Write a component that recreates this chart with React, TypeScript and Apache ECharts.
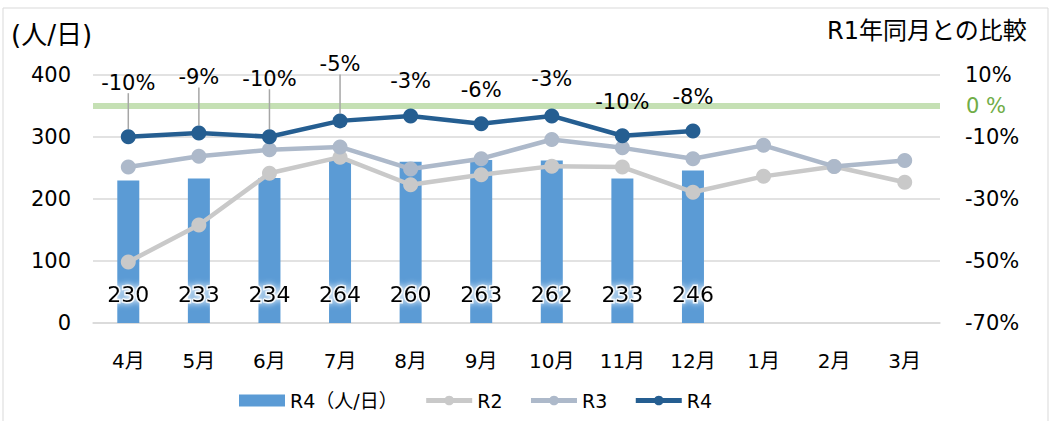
import React, { useEffect, useRef } from "react";
import * as echarts from "echarts";

const months = ["4月", "5月", "6月", "7月", "8月", "9月", "10月", "11月", "12月", "1月", "2月", "3月"];
const barR4 = [230, 233, 234, 264, 260, 263, 262, 233, 246];
const lineR2 = [-50.3, -38.4, -21.7, -16.5, -25.4, -22.2, -19.4, -19.7, -27.8, -22.7, -19.5, -24.6];
const lineR3 = [-19.7, -16.2, -14.1, -13.2, -20.3, -17.0, -10.8, -13.5, -17.0, -12.7, -19.5, -17.6];
const lineR4 = [-9.9, -8.7, -9.9, -4.8, -3.2, -5.7, -3.2, -9.6, -8.1];
const leftTicks = [0, 100, 200, 300, 400];
const rightTicks = [-70, -50, -30, -10, 10];
const labelLift = [-28, -30, -32, -31, -9, -8, -11, -8, -8];
const guideShown = [true, true, true, true, false, false, false, false, false];

const FONT = "'DejaVu Sans', 'Noto Sans CJK JP', sans-serif";

export default function App() {
  const ref = useRef<HTMLDivElement>(null);
  useEffect(() => {
    document.body.style.margin = "0";
    const chart = echarts.init(ref.current!, undefined, { renderer: "svg" });
    const r4Items = lineR4.map((v, i) => ({
      value: v,
      labelLine: { show: guideShown[i] },
    }));
    chart.setOption({
      animation: false,
      textStyle: { fontFamily: FONT },
      graphic: [
        {
          type: "rect",
          shape: { x: 3, y: 8, width: 1045, height: 420 },
          style: { fill: "none", stroke: "#d9d9d9", lineWidth: 1 },
          silent: true,
        },
        {
          type: "text",
          left: 11,
          top: 22,
          style: { text: "(人/日)", fontSize: 26, fill: "#000", fontFamily: FONT },
        },
        {
          type: "text",
          right: 25,
          top: 19,
          style: { text: "R1年同月との比較", fontSize: 24, fill: "#000", fontFamily: FONT },
        },
      ],
      grid: { left: 93, right: 112, top: 75, bottom: 98 },
      legend: {
        bottom: 6,
        left: 234,
        itemGap: 26,
        itemWidth: 46,
        itemHeight: 12,
        textStyle: { fontSize: 19, color: "#000", fontFamily: FONT },
        data: [
          { name: "R4（人/日）", icon: "rect" },
          { name: "R2", lineStyle: { width: 5 } },
          { name: "R3", lineStyle: { width: 5 } },
          { name: "R4", lineStyle: { width: 5 } },
        ],
      },
      xAxis: {
        type: "category",
        data: months,
        axisLine: { show: true, lineStyle: { color: "#d9d9d9", width: 1.5 } },
        axisTick: { show: false },
        axisLabel: { fontSize: 20, color: "#000", margin: 28, fontFamily: FONT },
      },
      yAxis: [
        {
          type: "value",
          min: leftTicks[0],
          max: leftTicks[leftTicks.length - 1],
          interval: 100,
          axisLine: { show: false },
          axisTick: { show: false },
          splitLine: { lineStyle: { color: "#d9d9d9", width: 1.5 } },
          axisLabel: { fontSize: 21, color: "#000", margin: 22, fontFamily: FONT },
        },
        {
          type: "value",
          min: rightTicks[0],
          max: rightTicks[rightTicks.length - 1],
          interval: 20,
          axisLine: { show: false },
          axisTick: { show: false },
          splitLine: { show: false },
          axisLabel: {
            fontSize: 21,
            color: "#000",
            margin: 25,
            fontFamily: FONT,
            formatter: (v: number) => `${v}%`,
          },
        },
      ],
      series: [
        {
          name: "R4（人/日）",
          type: "bar",
          data: barR4,
          barWidth: 22,
          itemStyle: { color: "#5b9bd5" },
          label: {
            show: true,
            position: "insideBottom",
            distance: 18,
            fontSize: 22,
            color: "#000",
            fontFamily: FONT,
            textBorderColor: "rgba(255,255,255,0.85)",
            textBorderWidth: 3,
            textShadowColor: "#fff",
            textShadowBlur: 6,
          },
          z: 1,
        },
        {
          name: "R2",
          type: "line",
          yAxisIndex: 1,
          data: lineR2,
          symbol: "circle",
          symbolSize: 15,
          lineStyle: { color: "#c9c9c9", width: 4.5 },
          itemStyle: { color: "#c9c9c9" },
          z: 3,
        },
        {
          name: "R3",
          type: "line",
          yAxisIndex: 1,
          data: lineR3,
          symbol: "circle",
          symbolSize: 15,
          lineStyle: { color: "#adb9ca", width: 4.5 },
          itemStyle: { color: "#adb9ca" },
          z: 4,
        },
        {
          name: "R4",
          type: "line",
          yAxisIndex: 1,
          data: r4Items,
          symbol: "circle",
          symbolSize: 15,
          lineStyle: { color: "#255e91", width: 4.5 },
          itemStyle: { color: "#255e91" },
          z: 5,
          label: {
            show: true,
            position: "top",
            distance: 8,
            fontSize: 21,
            color: "#000",
            fontFamily: FONT,
            formatter: (p: any) => `${Math.round(p.value)}%`,
          },
          labelLine: { show: true, lineStyle: { color: "#a6a6a6", width: 1.5 } },
          labelLayout: (params: any) => ({ dy: labelLift[params.dataIndex] }),
          markLine: {
            silent: true,
            symbol: "none",
            lineStyle: { color: "#c5e0b4", width: 6, type: "solid" },
            label: {
              show: true,
              position: "end",
              distance: 26,
              formatter: "0 %",
              fontSize: 21,
              color: "#70ad47",
              fontFamily: FONT,
            },
            data: [{ yAxis: 0 }],
            z: 2,
          },
        },
      ],
    });
    return () => chart.dispose();
  }, []);
  return <div ref={ref} style={{ width: 1052, height: 421 }} />;
}
